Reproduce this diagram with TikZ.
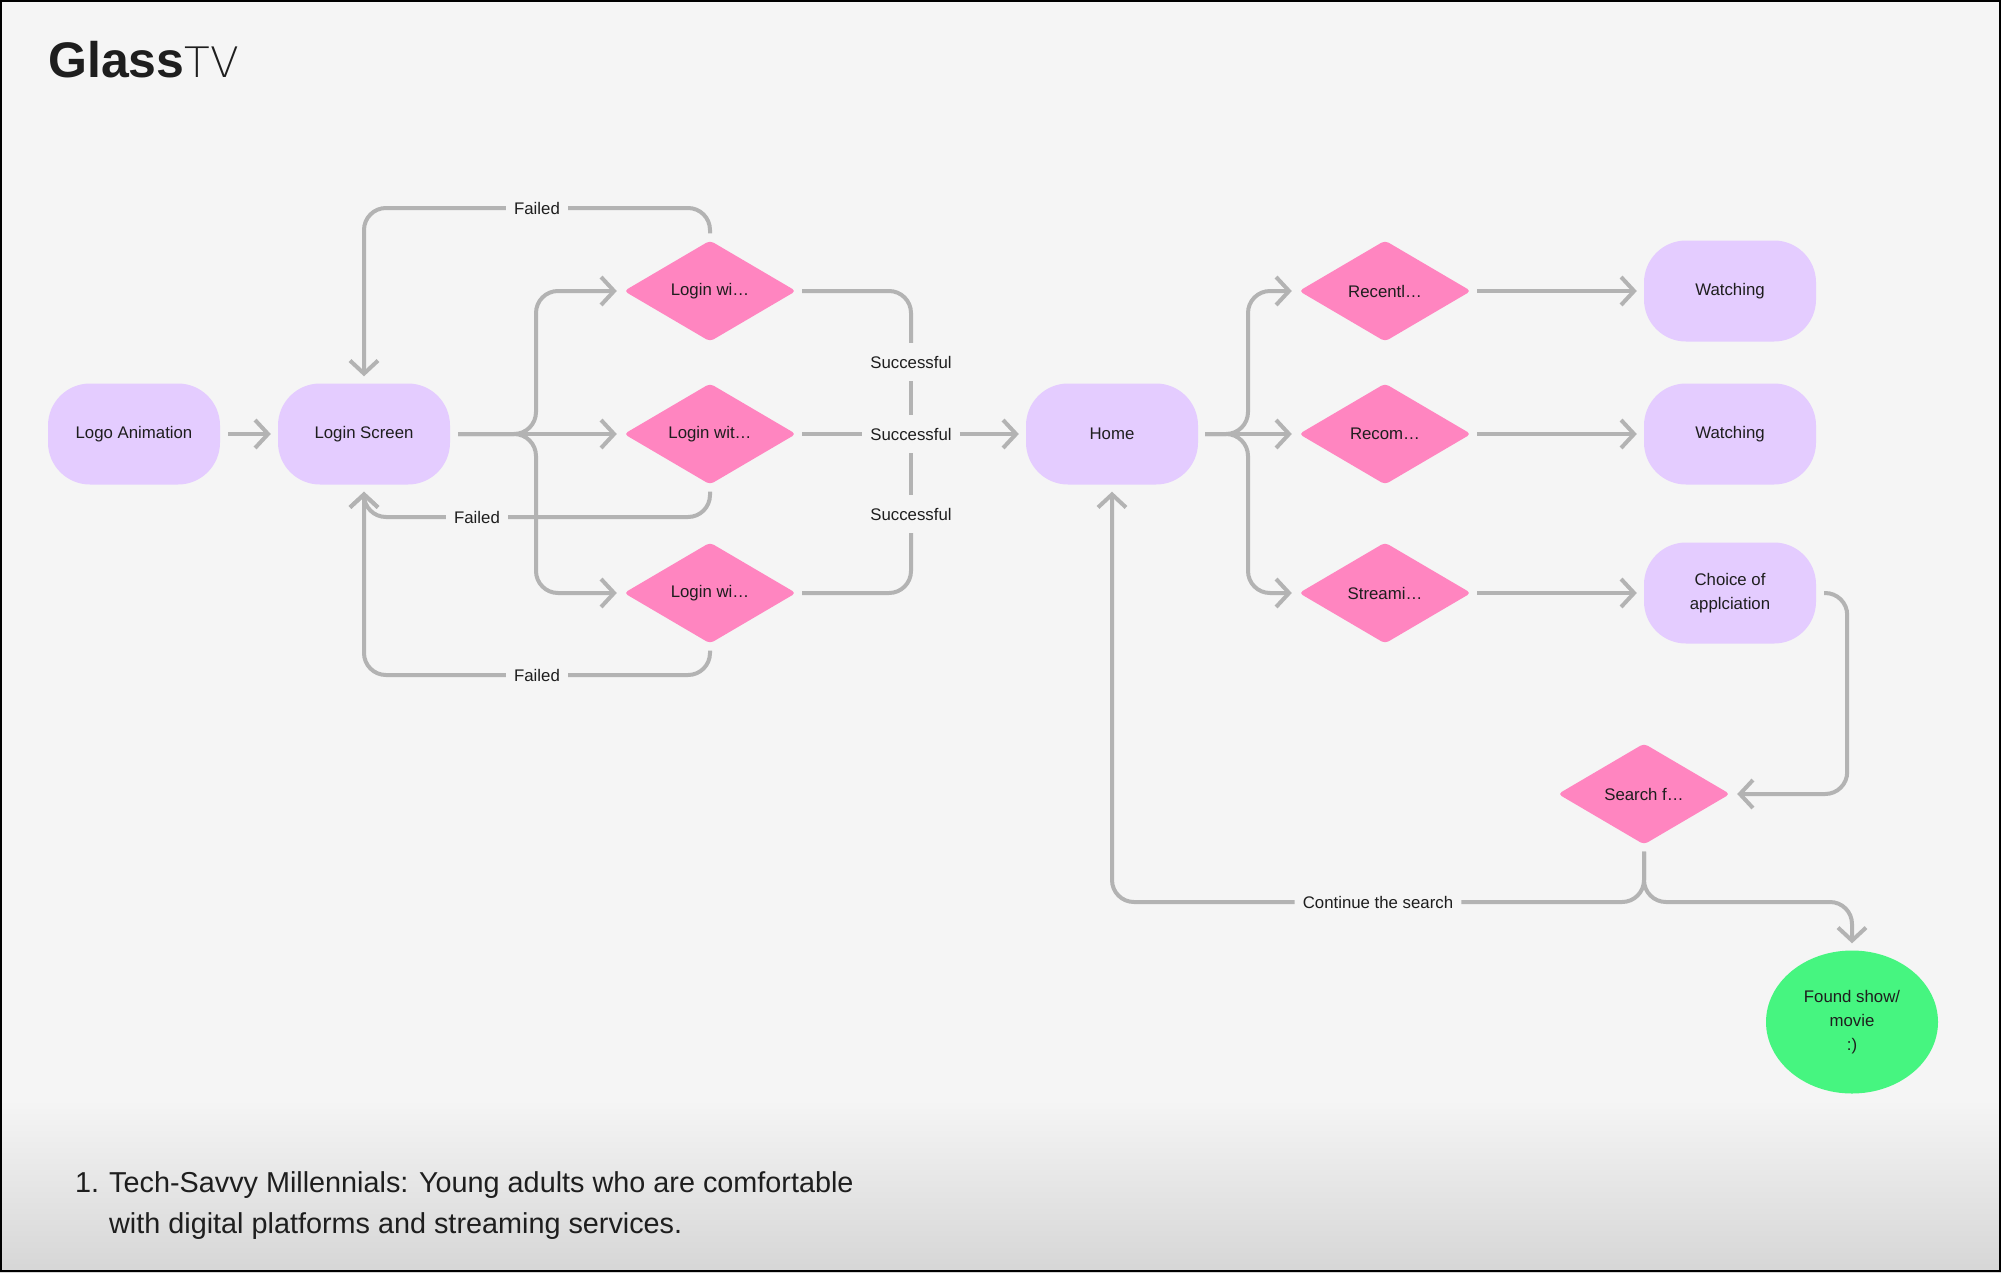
\documentclass[tikz,border=0pt]{standalone}
\usepackage{fontspec}
\setmainfont{Liberation Sans}
\newfontfamily\thinfont{DejaVu Sans ExtraLight}
\usetikzlibrary{shapes.geometric, arrows.meta, positioning}

\definecolor{canvas}{HTML}{F5F5F5}
\definecolor{shadebot}{HTML}{D6D6D6}
\definecolor{lilac}{HTML}{E4CCFF}
\definecolor{rose}{HTML}{FF85C0}
\definecolor{mint}{HTML}{46F580}
\definecolor{wirec}{HTML}{B3B3B3}
\definecolor{ink}{HTML}{1E1E1E}

\begin{document}
\begin{tikzpicture}[x=1pt, y=-1pt,
  every node/.style={text=ink, font=\fontsize{16.8}{24}\selectfont},
  screen/.style={rounded corners=42pt, fill=lilac, minimum width=172pt, minimum height=101pt, inner sep=0pt, align=center},
  choice/.style={diamond, aspect=1.7, rounded corners=4pt, fill=rose, minimum width=172pt, minimum height=101pt, inner sep=0pt},
  wire/.style={draw=wirec, line width=4pt, rounded corners=22pt},
  tip/.style={-{Straight Barb[length=13pt, width=28pt]}, shorten >=7pt},
  tag/.style={fill=canvas, inner xsep=8pt, inner ysep=0pt, minimum height=38pt}]
\useasboundingbox (0,0) rectangle (2001,1272);
\fill[canvas] (0,0) rectangle (2001,1272);
\shade[top color=canvas, bottom color=shadebot] (0,1100) rectangle (2001,1272);
\draw[black, line width=2pt] (1,1) rectangle (2000,1271);

% title
\node[anchor=base west, inner sep=0pt, font=\fontsize{50}{60}\selectfont] (title) at (48,77) {\textbf{Glass}{\thinfont\fontsize{42}{50}\selectfont TV}};

% screens and decisions
\node[screen] (logo) at (134,434) {Logo Animation};
\node[screen] (login) at (364,434) {Login Screen};
\node[choice] (lgA) at (710,291) {Login wi…};
\node[choice] (lgB) at (710,434) {Login wit…};
\node[choice] (lgC) at (710,593) {Login wi…};
\node[screen] (home) at (1112,434) {Home};
\node[choice] (recent) at (1385,291) {Recentl…};
\node[choice] (recom) at (1385,434) {Recom…};
\node[choice] (stream) at (1385,593) {Streami…};
\node[screen] (watchA) at (1730,291) {Watching};
\node[screen] (watchB) at (1730,434) {Watching};
\node[screen] (apps) at (1730,593) {Choice of\\applciation};
\node[choice] (search) at (1644,794) {Search f…};
\node[ellipse, fill=mint, minimum width=172pt, minimum height=143pt, inner sep=0pt, align=center] (found) at (1852,1022) {Found show/\\movie\\:)};

% connector labels
\node[tag] (okA) at (911,362) {Successful};
\node[tag] (okB) at (911,434) {Successful};
\node[tag] (okC) at (911,514) {Successful};
\node[tag] (failA) at (537,208) {Failed};
\node[tag] (failB) at (477,517) {Failed};
\node[tag] (failC) at (537,675) {Failed};
\node[tag] (again) at (1378,902) {Continue the search};

\coordinate (splitL) at (536,434);
\coordinate (splitH) at (1248,434);
\coordinate (splitS) at (1644,902);

% login flow
\draw[wire, tip, shorten <=8pt] (logo) -- (login);
\draw[wire, tip, shorten <=8pt] (login.east) -- (splitL) |- (lgA.west);
\draw[wire, tip, shorten <=8pt] (login.east) -- (lgB.west);
\draw[wire, tip, shorten <=8pt] (login.east) -- (splitL) |- (lgC.west);

\draw[wire, shorten <=6pt] (lgA.east) -| (okA.north);
\draw[wire] (okA) -- (okB);
\draw[wire, shorten <=6pt] (lgB.east) -- (okB.west);
\draw[wire, tip] (okB.east) -- (home.west);
\draw[wire] (okC) -- (okB);
\draw[wire, shorten <=6pt] (lgC.east) -| (okC.south);

\draw[wire, shorten <=7pt] (lgA.north) |- (failA.east);
\draw[wire, tip] (failA.west) -| (login.north);
\draw[wire, shorten <=7pt] (lgB.south) |- (failB.east);
\draw[wire, tip] (failB.west) -| (login.south);
\draw[wire, shorten <=7pt] (lgC.south) |- (failC.east);
\draw[wire, tip] (failC.west) -| (login.south);

% home flow
\draw[wire, tip, shorten <=7pt] (home.east) -- (splitH) |- (recent.west);
\draw[wire, tip, shorten <=7pt] (home.east) -- (recom.west);
\draw[wire, tip, shorten <=7pt] (home.east) -- (splitH) |- (stream.west);
\draw[wire, tip, shorten <=6pt] (recent) -- (watchA);
\draw[wire, tip, shorten <=6pt] (recom) -- (watchB);
\draw[wire, tip, shorten <=6pt] (stream) -- (apps);

\draw[wire, tip, shorten <=8pt] (apps.east) -- ++(31,0) |- (search.east);
\draw[wire, shorten <=7pt] (search.south) |- (again.east);
\draw[wire, tip] (again.west) -| (home.south);
\draw[wire, tip, shorten <=7pt] (search.south) -- (splitS) -| (found.north);

% persona note
\node[anchor=base west, inner sep=0pt, font=\fontsize{28.8}{41}\selectfont] (itemNo) at (75,1192) {1.};
\node[anchor=base west, inner sep=0pt, font=\fontsize{28.8}{41}\selectfont] (itemA) at (109,1192) {Tech-Savvy Millennials: Young adults who are comfortable};
\node[anchor=base west, inner sep=0pt, font=\fontsize{28.8}{41}\selectfont] (itemB) at (109,1233) {with digital platforms and streaming services.};
\end{tikzpicture}
\end{document}
